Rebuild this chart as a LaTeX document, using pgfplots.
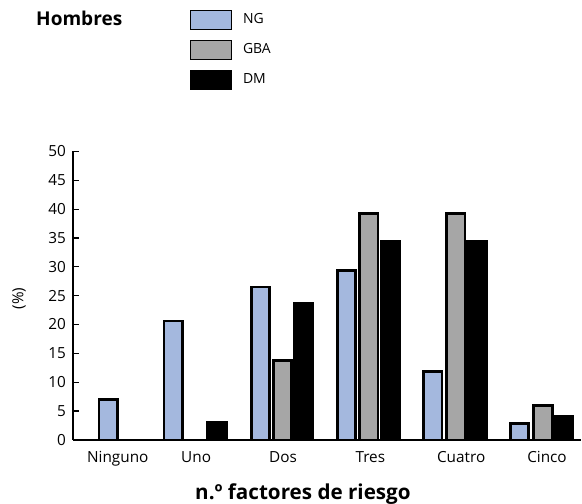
\documentclass[border=0pt]{standalone}
\usepackage{fontspec}
\setmainfont{Open Sans}
\usepackage{pgfplots}
\pgfplotsset{compat=1.18}
\definecolor{ngblue}{HTML}{A4B8DE}
\definecolor{gbagray}{HTML}{A6A6A6}
\begin{document}
\begin{tikzpicture}
\begin{scope}[x=0.75pt,y=-0.75pt]
\useasboundingbox (0,0) rectangle (582,504);
\node[anchor=base west, inner sep=0pt, font=\bfseries\fontsize{14.3}{16}\selectfont] at (36,25.5) {Hombres};
\node[anchor=base, inner sep=0pt, font=\bfseries\fontsize{15.5}{17}\selectfont] at (303.5,500) {n.º factores de riesgo};
\node[rotate=90, inner sep=0pt, font=\fontsize{11.5}{13}\selectfont] at (19,299) {(\%)};
\end{scope}
\begin{axis}[
  scale only axis,
  width=381.75pt, height=216.75pt,
  at={(54.75pt,-330.525pt)}, anchor=south west,
  xmin=73, xmax=582, ymin=0, ymax=50,
  axis x line=bottom, axis y line=left,
  x axis line style={-, line width=1.6pt},
  y axis line style={-, line width=1pt},
  ytick={0,5,...,50},
  xtick={118,196.5,283.5,371,462,548},
  xticklabels={Ninguno,Uno,Dos,Tres,Cuatro,Cinco},
  major tick length=4.5pt,
  tick align=inside,
  ytick style={black, line width=0.9pt},
  xtick style={draw=none},
  /pgf/number format/assume math mode=true,
  yticklabel style={anchor=east, inner sep=0pt, xshift=-5pt, font=\fontsize{11.5}{13}\selectfont},
  xticklabel style={anchor=base, inner sep=0pt, yshift=-16.7pt, font=\fontsize{11.5}{13}\selectfont},
  legend image code/.code={\draw[#1,/tikz/.cd,line width=0.9pt] (0pt,-7.1pt) rectangle (30.75pt,7.1pt);},
  legend style={at={(0.2299,1.4925)}, anchor=north west, draw=none, fill=none, inner sep=0pt,
    row sep=7.5pt, font=\fontsize{10.5}{12}\selectfont,
    nodes={inner sep=0pt},
    /tikz/every odd column/.append style={column sep=8.25pt}},
  legend cell align=left,
  clip=false,
]
\addplot[ybar, bar shift=0pt, bar width=18.5, fill=ngblue, draw=black, line width=2.1pt]
  coordinates {(108.5,7) (173.5,20.6) (261,26.5) (347,29.4) (433.5,11.8) (520.5,2.9)};
\addlegendentry{NG}
\addplot[ybar, bar shift=0pt, bar width=18.5, fill=gbagray, draw=black, line width=2.1pt]
  coordinates {(283,13.8) (369.5,39.2) (456.5,39.2) (544,5.9)};
\addlegendentry{GBA}
\addplot[ybar, bar shift=0pt, bar width=18.5, fill=black, draw=black, line width=2.1pt]
  coordinates {(217.5,3.0) (304,23.6) (391,34.4) (478,34.4) (564.5,4.0)};
\addlegendentry{DM}
\end{axis}
\end{tikzpicture}
\end{document}
